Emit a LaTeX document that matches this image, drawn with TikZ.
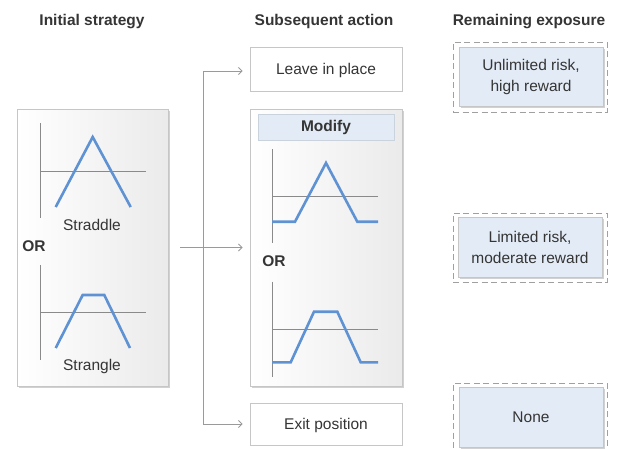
\documentclass[tikz,border=0pt]{standalone}
\usepackage{fontspec}
\setmainfont{Liberation Sans}
\usetikzlibrary{arrows.meta,shadows}
\definecolor{txt}{HTML}{353535}
\definecolor{curve}{HTML}{5E92D3}
\definecolor{axisc}{HTML}{8A8A8A}
\definecolor{edge}{HTML}{C6C6C6}
\definecolor{tint}{HTML}{E3EBF6}
\definecolor{tintedge}{HTML}{C9D2DD}
\definecolor{conn}{HTML}{9A9A9A}
\definecolor{dashc}{HTML}{A0A0A0}
\tikzset{
  basefont/.style={font=\fontsize{15.5}{21}\selectfont},
  boldfont/.style={font=\fontsize{15.5}{21}\selectfont\bfseries},
  header/.style={boldfont, text=txt},
  softshadow/.style={drop shadow={shadow xshift=1.5pt, shadow yshift=-1.5pt, fill=black, opacity=0.18}},
  panel/.style={draw=edge, line width=0.8pt, left color=white, right color=black!8, softshadow,
    minimum width=#1, inner sep=0pt},
  actionbox/.style={draw=edge, line width=0.8pt, fill=white, minimum width=152pt, inner sep=0pt,
    text depth=0pt},
  tagbox/.style={draw=tintedge, line width=0.8pt, fill=tint, inner sep=0pt},
  outcome/.style={draw=edge, line width=0.8pt, fill=tint, softshadow, minimum width=144pt,
    minimum height=59pt, inner sep=0pt, align=center},
  dashframe/.style={draw=dashc, line width=0.9pt, dash pattern=on 6pt off 3.5pt, fill=white,
    minimum width=154pt, minimum height=70pt, inner sep=0pt},
  axisline/.style={draw=axisc, line width=0.9pt},
  payoff/.style={draw=curve, line width=2.6pt},
  conn/.style={draw=conn, line width=0.9pt},
  connarrow/.style={conn, -{Straight Barb[length=3.5pt, width=7pt, line width=0.9pt]}, shorten >=7pt},
}
\begin{document}
\begin{tikzpicture}[x=1pt, y=-1pt, basefont, text=txt]
\useasboundingbox (0,0) rectangle (622,448);

% column headings
\node[header, anchor=base] (h1) at (92,25) {Initial strategy};
\node[header, anchor=base] (h2) at (324,25) {Subsequent action};
\node[header, anchor=base] (h3) at (529,25) {Remaining exposure};

% initial strategy panel
\node[panel=151pt, minimum height=277pt] (init) at (92.5,247.5) {};
\draw[axisline] (40,123) -- (40,218);
\draw[axisline] (40,171) -- (146,171);
\draw[payoff] (55.7,207) -- (92.7,137) -- (130.7,207);
\node (straddle) at (92,224.5) {Straddle};
\node[boldfont] (or1) at (34,246.5) {OR};
\draw[axisline] (40,265) -- (40,360);
\draw[axisline] (40,312) -- (146,312);
\draw[payoff] (55.7,348) -- (82.7,295) -- (104.3,295) -- (130,348);
\node (strangle) at (92,366) {Strangle};

% subsequent actions
\node[actionbox, minimum height=44pt] (leave) at (326,69) {Leave in place};
\node[panel=152pt, minimum height=277pt] (modify) at (326,247.5) {};
\node[tagbox, minimum width=136pt, minimum height=26pt, boldfont]
  (modtag) at (326,127) {Modify};
\draw[axisline] (272,149) -- (272,243);
\draw[axisline] (272,196.5) -- (378,196.5);
\draw[payoff] (272,221.7) -- (295,221.7) -- (326,163) -- (357.3,221.7) -- (378,221.7);
\node[boldfont] (or2) at (274,261) {OR};
\draw[axisline] (272,281.7) -- (272,376.7);
\draw[axisline] (272,329.3) -- (378,329.3);
\draw[payoff] (272,362.3) -- (290.7,362.3) -- (314,311.7) -- (337.3,311.7) -- (360.7,362.3) -- (378,362.3);
\node[actionbox, minimum height=42pt] (exit) at (326,424) {Exit position};

% remaining exposure
\node[dashframe] (f1) at (530,77) {};
\node[outcome] (r1) at (531,76.5) {Unlimited risk,\\high reward};
\node[dashframe, minimum height=69pt] (f2) at (530,247.5) {};
\node[outcome, minimum height=60pt] (r2) at (530,247) {Limited risk,\\moderate reward};
\node[dashframe] (f3) at (530,418) {};
\node[outcome, minimum height=60pt, text depth=0pt] (r3) at (531,417) {None};

% connectors
\coordinate (split) at (203,247.5);
\draw[connarrow] ([xshift=12pt]init.east) -- (modify.west);
\draw[connarrow] (split) |- ([yshift=-2pt]leave.west);
\draw[connarrow] (split) |- (exit.west);
\end{tikzpicture}
\end{document}
